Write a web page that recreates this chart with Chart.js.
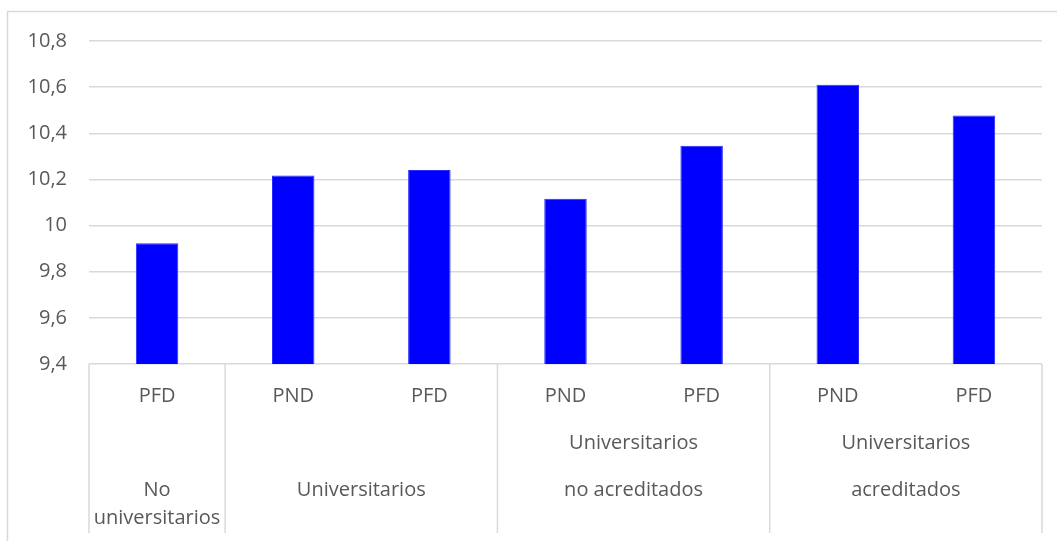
<!DOCTYPE html>
<html>
<head>
<meta charset="utf-8">
<script src="https://cdn.jsdelivr.net/npm/chart.js@4"></script>
<style>
  html, body { margin: 0; padding: 0; background: #fff; overflow: hidden; }
  #wrap { position: relative; width: 1057px; height: 541px; }
</style>
</head>
<body>
<div id="wrap"><canvas id="chart"></canvas></div>
<script>
const categories = ["PFD", "PND", "PFD", "PND", "PFD", "PND", "PFD"];
const groupLabels = [["No", "universitarios"], ["Universitarios"], ["Universitarios", "no acreditados"], ["Universitarios", "acreditados"]];
const groupSpans = [1, 2, 2, 2];
const values = [9.923, 10.217, 10.241, 10.116, 10.346, 10.61, 10.477];
const yMin = 9.4, yMax = 10.8, yStep = 0.2;

const textColor = "#595959";
const lineColor = "#d9d9d9";
const fontFamily = "'Open Sans', sans-serif";

// draws the two-level category axis and the outer frame
const axisPlugin = {
  id: "multiAxis",
  beforeDraw(chart) {
    const ctx = chart.ctx;
    ctx.save();
    ctx.fillStyle = "#fff";
    ctx.fillRect(0, 0, chart.width, chart.height);
    ctx.strokeStyle = lineColor;
    ctx.lineWidth = 1.5;
    ctx.strokeRect(7.5, 11.5, chart.width + 20, chart.height + 20);
    ctx.restore();
  },
  afterDraw(chart) {
    const ctx = chart.ctx;
    const area = chart.chartArea;
    const x = chart.scales.x;
    const colW = (area.right - area.left) / categories.length;
    ctx.save();
    ctx.strokeStyle = lineColor;
    ctx.lineWidth = 1.5;
    ctx.fillStyle = textColor;
    ctx.font = "20px " + fontFamily;
    ctx.textAlign = "center";
    ctx.textBaseline = "middle";

    categories.forEach((c, i) => {
      ctx.fillText(c, x.getPixelForValue(i), area.bottom + 32);
    });

    let start = 0;
    const bottom = area.bottom + 169;
    const drawSep = px => {
      ctx.beginPath();
      ctx.moveTo(px, area.bottom);
      ctx.lineTo(px, bottom);
      ctx.stroke();
    };
    drawSep(area.left);
    groupSpans.forEach((span, g) => {
      const left = area.left + start * colW;
      const right = left + span * colW;
      const cx = (left + right) / 2;
      const lines = groupLabels[g];
      const gap = span === 1 ? 28 : 47;
      const y0 = span === 1 ? area.bottom + 126 : area.bottom + 126 - (lines.length - 1) * gap;
      lines.forEach((t, k) => ctx.fillText(t, cx, y0 + k * gap));
      drawSep(right);
      start += span;
    });
    ctx.restore();
  }
};

new Chart(document.getElementById("chart"), {
  type: "bar",
  data: {
    labels: categories,
    datasets: [{
      data: values,
      backgroundColor: "#0000ff",
      borderColor: "#2a2aff",
      borderWidth: 1,
      barPercentage: 0.312,
      categoryPercentage: 1
    }]
  },
  options: {
    responsive: true,
    maintainAspectRatio: false,
    animation: false,
    layout: { padding: { left: 0, top: 41, right: 15, bottom: 0 } },
    plugins: { legend: { display: false }, tooltip: { enabled: false } },
    scales: {
      x: {
        ticks: { display: false },
        grid: { display: false },
        border: { display: false },
        afterFit: s => { s.height = 177; }
      },
      y: {
        min: yMin,
        max: yMax,
        ticks: {
          stepSize: yStep,
          padding: 22,
          color: textColor,
          font: { family: fontFamily, size: 20 },
          callback: v => String(Math.round(v * 10) / 10).replace(".", ",")
        },
        grid: { color: lineColor, lineWidth: 1.5, drawTicks: false },
        border: { display: false },
        afterFit: s => { s.width = 89; }
      }
    }
  },
  plugins: [axisPlugin]
});
</script>
</body>
</html>
